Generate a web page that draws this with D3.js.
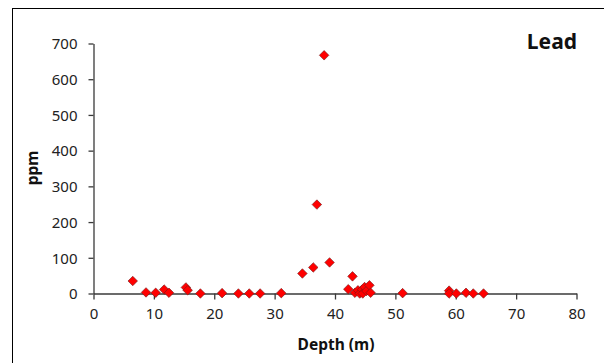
<!DOCTYPE html>
<html>
<head>
<meta charset="utf-8">
<script src="https://cdn.jsdelivr.net/npm/d3@7"></script>
<style>
  html, body { margin: 0; padding: 0; background: #fff; }
  svg { display: block; font-family: "Noto Sans", "Open Sans", sans-serif; }
</style>
</head>
<body>
<svg id="chart" width="604" height="363"></svg>
<script>
// Lead concentration (ppm) against sample depth (m)
const depth = [6.5, 8.7, 10.3, 11.7, 12.5, 15.3, 15.6, 17.7, 21.3, 24.0, 25.8, 27.6, 31.1,
               34.6, 36.4, 37.0, 38.2, 39.1,
               42.2, 42.9, 43.3, 43.8, 44.1, 44.5, 44.6, 44.9, 45.2, 45.7, 45.9,
               51.2, 58.9, 58.9, 60.1, 61.7, 62.9, 64.6];
const lead  = [35, 3, 2, 11, 2, 17, 9, 0, 1, 0, 0, 0, 1,
               56, 73, 249, 667, 87,
               12, 48, 2, 9, 0, 11, 0, 18, 7, 23, 2,
               1, 8, 0, 0, 2, 0, 0];
const xTicks = [0, 10, 20, 30, 40, 50, 60, 70, 80];
const yTicks = [0, 100, 200, 300, 400, 500, 600, 700];

const svg = d3.select("#chart");
const axisColor = "#3a3a3a";

// chart area frame
svg.append("rect")
  .attr("x", 12.5).attr("y", 8.5)
  .attr("width", 620).attr("height", 400)
  .attr("fill", "none").attr("stroke", "#000").attr("stroke-width", 1);

const x = d3.scaleLinear().domain([0, 80]).range([93.5, 576.5]);
const y = d3.scaleLinear().domain([0, 700]).range([293.5, 43.5]);

const xAxis = svg.append("g")
  .attr("transform", `translate(0,${y(0)})`)
  .call(d3.axisBottom(x).tickValues(xTicks).tickSize(6).tickSizeOuter(0).tickPadding(9));
const yAxis = svg.append("g")
  .attr("transform", `translate(${x(0)},0)`)
  .call(d3.axisLeft(y).tickValues(yTicks).tickSize(5).tickSizeOuter(0).tickPadding(11));

[xAxis, yAxis].forEach(g => {
  g.select(".domain").attr("stroke", axisColor).attr("stroke-width", 1.3);
  g.selectAll(".tick line").attr("stroke", axisColor).attr("stroke-width", 1.3);
  g.selectAll(".tick text")
    .attr("fill", "#222")
    .style("font-size", "15px")
    .style("font-family", "\"Noto Sans\", \"Open Sans\", sans-serif");
});
yAxis.selectAll(".tick text").attr("dy", "0.35em");

// axis titles
svg.append("text")
  .attr("x", 336).attr("y", 350)
  .attr("text-anchor", "middle")
  .style("font-size", "15.5px").style("font-weight", "bold")
  .attr("fill", "#111")
  .text("Depth (m)");

svg.append("text")
  .attr("transform", "translate(38,168) rotate(-90)")
  .attr("text-anchor", "middle")
  .style("font-size", "15.5px").style("font-weight", "bold")
  .attr("fill", "#111")
  .text("ppm");

// element label
svg.append("text")
  .attr("x", 577).attr("y", 49)
  .attr("text-anchor", "end")
  .style("font-size", "21px").style("font-weight", "bold")
  .attr("fill", "#111")
  .text("Lead");

// data markers
const diamond = d3.symbol().type(d3.symbolDiamond2).size(58);
svg.append("g")
  .selectAll("path")
  .data(depth.map((d, i) => ({ d, v: lead[i] })))
  .join("path")
  .attr("d", diamond)
  .attr("transform", p => `translate(${x(p.d)},${y(p.v)})`)
  .attr("fill", "#ff0000")
  .attr("stroke", "#6e1a1a")
  .attr("stroke-width", 0.6);
</script>
</body>
</html>
